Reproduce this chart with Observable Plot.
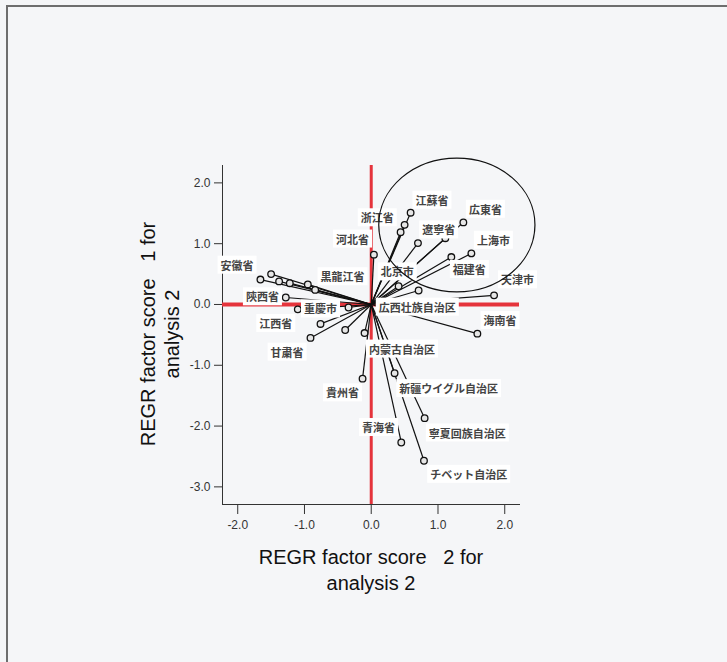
<!DOCTYPE html>
<html><head><meta charset="utf-8">
<script src="https://cdn.jsdelivr.net/npm/d3@7"></script>
<script src="https://cdn.jsdelivr.net/npm/@observablehq/plot@0.6"></script>
<style>
html,body{margin:0;padding:0;background:#f5f6f8;width:727px;height:662px;overflow:hidden;}
#frame{position:absolute;left:6px;top:5px;width:760px;height:720px;border-top:2px solid #6e6e6e;border-left:2px solid #6e6e6e;}
#chart{position:absolute;left:0;top:0;}
</style></head><body><div id="frame"></div><div id="chart"></div>
<script>
// Provinces (SPSS labels; 8 points carry no label in the original)
const provinces = ["江蘇省","浙江省","山東省","北京市","広東省","遼寧省","福建省","上海市","湖北省","広西壮族自治区","天津市","海南省",
  "安徽省","湖南省","河南省","四川省","黒龍江省","吉林省","陝西省","重慶市","山西省","江西省","甘粛省","雲南省","内蒙古自治区","河北省",
  "貴州省","新疆ウイグル自治区","寧夏回族自治区","青海省","チベット自治区"];
// REGR factor score 2 (x) and factor score 1 (y)
const score2 = [0.59,0.50,0.44,0.70,1.38,1.11,1.20,1.50,0.41,0.71,1.84,1.59,
  -1.66,-1.50,-1.38,-1.22,-0.95,-0.84,-1.28,-1.10,-0.34,-0.76,-0.91,-0.39,-0.10,0.04,
  -0.13,0.35,0.80,0.45,0.79];
const score1 = [1.51,1.31,1.19,1.01,1.35,1.09,0.78,0.84,0.30,0.23,0.15,-0.48,
  0.41,0.50,0.38,0.35,0.33,0.24,0.115,-0.08,-0.05,-0.32,-0.55,-0.42,-0.47,0.82,
  -1.22,-1.13,-1.87,-2.27,-2.57];
const showLabel = [1,1,0,1,1,1,1,1,0,1,1,1, 1,0,0,0,1,0,1,1,0,1,1,0,1,1, 1,1,1,1,1];
// label anchor positions as placed in the original chart (data units)
const labelX = [0.91,0.09,null,0.39,1.71,1.01,1.47,1.83,null,0.69,2.19,1.93,
  -2.01,null,null,null,-0.43,null,-1.63,-0.76,null,-1.43,-1.26,null,0.46,-0.28,
  -0.43,1.16,1.44,0.11,1.46];
const labelY = [1.70,1.41,null,0.52,1.55,1.21,0.56,1.04,null,-0.06,0.39,-0.28,
  0.63,null,null,null,0.44,null,0.11,-0.09,null,-0.33,-0.80,null,-0.75,1.06,
  -1.47,-1.40,-2.13,-2.04,-2.81];
const xTicks = [-2,-1,0,1,2];
const yTicks = [2,1,0,-1,-2,-3];
const xTitle = ["REGR factor score   2 for", "analysis 2"];
const yTitle = ["REGR factor score   1 for", "analysis 2"];

// annotation ellipse (hand-drawn in original)
const circled = {cx: 1.29, cy: 1.30, rx: 1.17, ry: 1.10};

const red = "#e5343c";
const data = provinces.map((name, i) => ({name, x: score2[i], y: score1[i], lx: labelX[i], ly: labelY[i], show: showLabel[i]}));
const labelled = data.filter(d => d.show);

const chart = Plot.plot({
  width: 727, height: 662,
  marginLeft: 222, marginRight: 208, marginTop: 165, marginBottom: 158,
  style: {background: "transparent", color: "#333", fontFamily: "'Liberation Sans', Arial, sans-serif", fontSize: "12px"},
  x: {domain: [-2.228, 2.221], ticks: xTicks, tickFormat: d => d.toFixed(1), tickSize: 10, tickPadding: 6, line: true, label: null},
  y: {domain: [-3.29, 2.286], ticks: yTicks, tickFormat: d => d.toFixed(1), tickSize: 8, tickPadding: 4, line: true, label: null},
  marks: [
    Plot.ruleX([0], {stroke: red, strokeWidth: 3}),
    Plot.ruleY([0], {stroke: red, strokeWidth: 4}),
    Plot.link(data, {x1: () => 0, y1: () => 0, x2: "x", y2: "y", stroke: "#111", strokeWidth: 1.2}),
    Plot.dot(data, {x: "x", y: "y", r: 3.3, stroke: "#111", fill: "#e6e6e6", strokeWidth: 1.3}),
    Plot.text(labelled, {x: "lx", y: "ly", text: "name", fontFamily: "'Noto Sans CJK JP', sans-serif", fontSize: 11, fontWeight: "bold", fill: "#444"}),
    (index, scales) => {
      const {x, y} = scales;
      const e = d3.create("svg:ellipse")
        .attr("cx", x(circled.cx)).attr("cy", y(circled.cy))
        .attr("rx", x(circled.cx + circled.rx) - x(circled.cx))
        .attr("ry", y(circled.cy) - y(circled.cy + circled.ry))
        .attr("fill", "none").attr("stroke", "#111").attr("stroke-width", 1.2);
      return e.node();
    }
  ]
});
document.getElementById("chart").append(chart);

// white boxes behind the point labels, as in the SPSS output
const svgNS = "http://www.w3.org/2000/svg";
chart.querySelectorAll('g[aria-label="text"] text').forEach(t => {
  const b = t.getBBox();
  const r = document.createElementNS(svgNS, "rect");
  r.setAttribute("x", b.x - 3); r.setAttribute("y", b.y - 1);
  r.setAttribute("width", b.width + 6); r.setAttribute("height", b.height + 2);
  r.setAttribute("fill", "white");
  if (t.getAttribute("transform")) r.setAttribute("transform", t.getAttribute("transform"));
  t.parentNode.insertBefore(r, t);
});

// axis titles (two lines each)
const svg = d3.select(chart);
const xt = svg.append("text").attr("text-anchor", "middle").attr("fill", "#111")
  .style("font-family", "'Liberation Sans', Arial, sans-serif").style("font-size", "20px");
xTitle.forEach((s, i) => xt.append("tspan").attr("x", 371).attr("y", 564 + i * 26).text(s));
const yt = svg.append("text").attr("text-anchor", "middle").attr("fill", "#111")
  .attr("transform", "rotate(-90)")
  .style("font-family", "'Liberation Sans', Arial, sans-serif").style("font-size", "20px");
yTitle.forEach((s, i) => yt.append("tspan").attr("x", -334).attr("y", 155 + i * 24).text(s));
</script>
</body></html>
